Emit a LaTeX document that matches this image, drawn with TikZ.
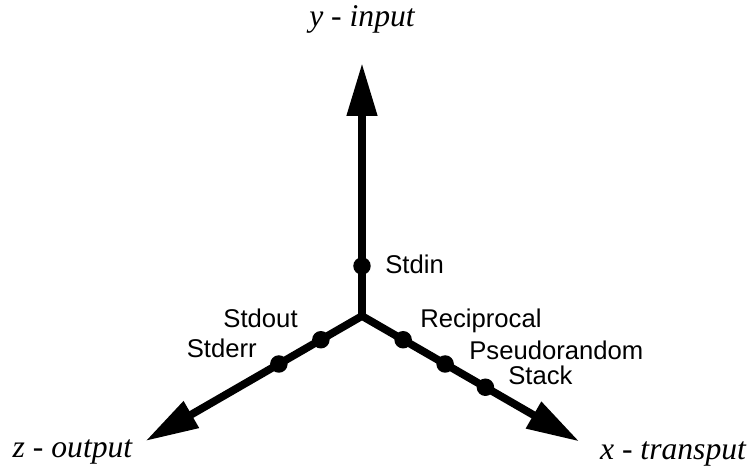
\documentclass[tikz,border=0pt]{standalone}
\usepackage{fontspec}
\usepackage{tikz}
\usetikzlibrary{arrows.meta}
\newfontfamily\labelfont{Liberation Sans}
\newfontfamily\axisfont{Liberation Serif}

\begin{document}
\begin{tikzpicture}[x=1cm,y=1cm,
  axis/.style={-{Triangle[length=1.06cm,width=0.58cm]},line width=4.4pt,line cap=round,black},
  dotmark/.style={circle,fill=black,inner sep=0pt,minimum size=0.35cm},
  lbl/.style={font=\labelfont\fontsize{14.6}{16}\selectfont,inner sep=0pt},
  axlbl/.style={font=\axisfont\itshape\fontsize{18}{20}\selectfont,inner sep=0pt}]
\useasboundingbox (-7.24,-3.04) rectangle (7.74,6.32);
\coordinate (O) at (0,0);
\coordinate (ytip) at (90:5.06);
\coordinate (xtip) at (-30:5.02);
\coordinate (ztip) at (210:5.0);
\draw[axis] (O) -- (ytip);
\draw[axis] (O) -- (xtip);
\draw[axis] (O) -- (ztip);
% points on the axes
\node[dotmark] (stdin) at (90:1.0) {};
\node[dotmark] (recip) at (-30:0.95) {};
\node[dotmark] (pseudo) at (-30:1.92) {};
\node[dotmark] (stack) at (-30:2.85) {};
\node[dotmark] (stdout) at (210:0.95) {};
\node[dotmark] (stderr) at (210:1.92) {};
% labels
\node[lbl,anchor=base west] (lstdin) at (0.46,0.84) {Stdin};
\node[lbl,anchor=base west] (lrecip) at (1.16,-0.24) {Reciprocal};
\node[lbl,anchor=base west] (lpseudo) at (2.14,-0.88) {Pseudorandom};
\node[lbl,anchor=base west] (lstack) at (2.92,-1.38) {Stack};
\node[lbl,anchor=base east] (lstdout) at (-1.28,-0.24) {Stdout};
\node[lbl,anchor=base east] (lstderr) at (-2.10,-0.84) {Stderr};
\node[axlbl,anchor=base] (ylbl) at (0,5.78) {y - input};
\node[axlbl,anchor=base] (zlbl) at (-5.79,-2.84) {z - output};
\node[axlbl,anchor=base] (xlbl) at (6.22,-2.88) {x - transput};
\end{tikzpicture}
\end{document}
